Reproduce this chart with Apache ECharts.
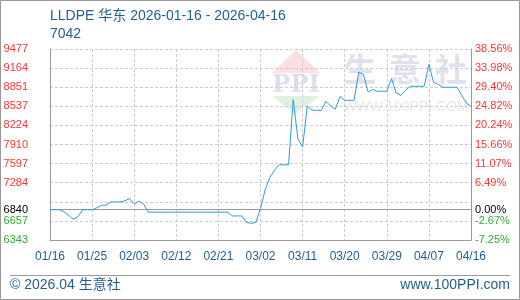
<!DOCTYPE html>
<html>
<head>
<meta charset="utf-8">
<script src="https://cdn.jsdelivr.net/npm/echarts@6/dist/echarts.min.js"></script>
<style>
html,body{margin:0;padding:0;background:#fff;}
#c{width:520px;height:300px;}
</style>
</head>
<body>
<div id="c"></div>
<script>
var dates = [
'01/16','01/17','01/18','01/19','01/20','01/21','01/22','01/23','01/24','01/25','01/26','01/27','01/28','01/29','01/30','01/31',
'02/01','02/02','02/03','02/04','02/05','02/06','02/07','02/08','02/09','02/10','02/11','02/12','02/13','02/14','02/15','02/16','02/17','02/18','02/19','02/20','02/21','02/22','02/23','02/24','02/25','02/26','02/27','02/28',
'03/01','03/02','03/03','03/04','03/05','03/06','03/07','03/08','03/09','03/10','03/11','03/12','03/13','03/14','03/15','03/16','03/17','03/18','03/19','03/20','03/21','03/22','03/23','03/24','03/25','03/26','03/27','03/28','03/29','03/30','03/31',
'04/01','04/02','04/03','04/04','04/05','04/06','04/07','04/08','04/09','04/10','04/11','04/12','04/13','04/14','04/15','04/16'
];
var prices = [
6840,6840,6840,6805,6745,6685,6725,6840,6840,6840,6870,6914,6914,6968,6968,6968,
6985,7023,6935,6980,6935,6800,6800,6800,6800,6800,6800,6800,6800,6800,6800,6800,6800,6800,6800,6800,6800,6800,6800,6738,6738,6738,6630,6618,
6630,6860,7170,7370,7490,7577,7577,7577,8646,8000,7870,8540,8475,8470,8470,8620,8540,8490,8700,8635,8635,8635,9100,9060,8773,8811,8783,8783,8783,8992,8760,
8717,8800,8865,8865,8865,8865,9222,8930,8895,8849,8849,8849,8849,8720,8590,8536
];
var baseValue = 6840;
var yMin = 6343, yMax = 9477, yStep = 313.4;
var leftLabels = ['6343','6657','','7284','7597','7910','8224','8537','8851','9164','9477'];
var rightLabels = ['-7.25%','-2.67%','','6.49%','11.07%','15.66%','20.24%','24.82%','29.40%','33.98%','38.56%'];
var titleText = 'LLDPE 华东 2026-01-16 - 2026-04-16';
var subText = '7042';
var footLeft = '© 2026.04 生意社';
var footRight = 'www.100PPI.com';

var FONT = '"Liberation Sans", Arial, sans-serif';
var BLUE = '#1f5f8f';
function idxOf(v){ return Math.round((v - yMin) / yStep); }
function tag(i){ return i < 2 ? 'g' : 'r'; }

var chart = echarts.init(document.getElementById('c'), null, {renderer:'canvas'});
chart.setOption({
  animation:false,
  backgroundColor:'#fff',
  grid:{left:50, top:49, width:421, height:191, show:false},
  xAxis:{
    type:'category', data:dates, boundaryGap:false,
    axisLine:{show:true, lineStyle:{color:'#999', width:1}},
    axisTick:{show:false},
    axisLabel:{interval:8, color:BLUE, fontSize:12, fontFamily:FONT, margin:11, showMaxLabel:true},
    splitLine:{show:true, interval:8, lineStyle:{color:'#ccc', type:[3,2], width:1}}
  },
  yAxis:[{
    type:'value', min:yMin, max:yMax, interval:yStep, position:'left',
    axisLine:{show:true, lineStyle:{color:'#999', width:1}},
    axisTick:{show:false},
    splitLine:{show:true, lineStyle:{color:'#ccc', type:[3,2], width:1}},
    axisLabel:{margin:22, fontSize:11, fontFamily:FONT,
      formatter:function(v){ var i=idxOf(v); var s=leftLabels[i]; return s ? '{'+tag(i)+'|'+s+'}' : ''; },
      rich:{r:{color:'#ff3333', fontSize:11, fontFamily:FONT}, g:{color:'#33aa33', fontSize:11, fontFamily:FONT}}
    }
  },{
    type:'value', min:yMin, max:yMax, interval:yStep, position:'right',
    axisLine:{show:true, lineStyle:{color:'#999', width:1}},
    axisTick:{show:false},
    splitLine:{show:false},
    axisLabel:{margin:4, fontSize:11, fontFamily:FONT,
      formatter:function(v){ var i=idxOf(v); var s=rightLabels[i]; return s ? '{'+tag(i)+'|'+s+'}' : ''; },
      rich:{r:{color:'#ff3333', fontSize:11, fontFamily:FONT}, g:{color:'#33aa33', fontSize:11, fontFamily:FONT}}
    }
  }],
  series:[{
    type:'line', data:prices, yAxisIndex:0, showSymbol:false, symbol:'none', z:5,
    lineStyle:{color:'#3399dd', width:1},
    markLine:{
      silent:true, symbol:'none', animation:false,
      lineStyle:{color:'#999', type:'solid', width:1},
      data:[
        {yAxis:baseValue, label:{show:true, position:'start', distance:22, align:'right', formatter:String(baseValue), color:'#000', fontSize:11, fontFamily:FONT}},
        {yAxis:baseValue, label:{show:true, position:'end', distance:4, align:'left', formatter:'0.00%', color:'#000', fontSize:11, fontFamily:FONT}}
      ]
    }
  }],
  graphic:[
    {type:'rect', shape:{x:0.5, y:0.5, width:519, height:299}, style:{fill:null, stroke:'#999', lineWidth:1}, z:-10, silent:true},
    {type:'polygon', shape:{points:[[272,73],[320,73],[296,50]]}, style:{fill:'#fae0e0'}, z:-5, silent:true},
    {type:'text', x:296, y:86, style:{text:'PPI', fill:'#dbe0ec', font:'bold 24px "DejaVu Serif", serif', textAlign:'center', textVerticalAlign:'middle'}, z:-5, silent:true},
    {type:'polygon', shape:{points:[[272,96],[320,96],[295,114]]}, style:{fill:'#dff2df'}, z:-5, silent:true},
    {type:'text', x:360, y:69, style:{text:'生', fill:'#dfe2ec', font:'bold 32px "Noto Sans CJK SC", sans-serif', textAlign:'center', textVerticalAlign:'middle'}, z:-5, silent:true},
    {type:'text', x:405, y:69, style:{text:'意', fill:'#dfe2ec', font:'bold 32px "Noto Sans CJK SC", sans-serif', textAlign:'center', textVerticalAlign:'middle'}, z:-5, silent:true},
    {type:'text', x:451, y:69, style:{text:'社', fill:'#dfe2ec', font:'bold 32px "Noto Sans CJK SC", sans-serif', textAlign:'center', textVerticalAlign:'middle'}, z:-5, silent:true},
    {type:'text', x:406, y:107, style:{text:'WWW.100PPI.COM', fill:'#e8e8e8', font:'14px "Liberation Sans", Arial, sans-serif', textAlign:'center', textVerticalAlign:'middle'}, z:-5, silent:true},
    {type:'text', x:50, y:16, style:{text:titleText, fill:BLUE, font:'14px "Liberation Sans", "Noto Sans CJK SC", sans-serif', textAlign:'left', textVerticalAlign:'middle'}, silent:true},
    {type:'text', x:50, y:34, style:{text:subText, fill:BLUE, font:'14px "Liberation Sans", sans-serif', textAlign:'left', textVerticalAlign:'middle'}, silent:true},
    {type:'line', shape:{x1:10, y1:275.5, x2:510, y2:275.5}, style:{stroke:'#999', lineWidth:1}, silent:true},
    {type:'text', x:10, y:285, style:{text:footLeft, fill:BLUE, font:'14px "Liberation Sans", "Noto Sans CJK SC", sans-serif', textAlign:'left', textVerticalAlign:'middle'}, silent:true},
    {type:'text', x:510, y:285, style:{text:footRight, fill:BLUE, font:'14px "Liberation Sans", sans-serif', textAlign:'right', textVerticalAlign:'middle'}, silent:true}
  ]
});
</script>
</body>
</html>
